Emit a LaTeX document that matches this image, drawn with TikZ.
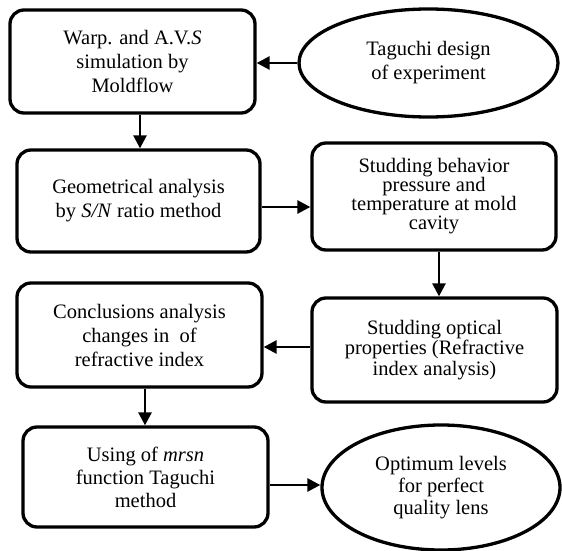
\documentclass[tikz,border=0pt]{standalone}
\usepackage{fontspec}
\setmainfont{Liberation Serif}
\usetikzlibrary{shapes.geometric,arrows.meta}
\newcommand\mytightlines{\lineskiplimit=-30pt\relax}
\begin{document}
\begin{tikzpicture}[x=1pt,y=-1pt,
  box/.style={draw,line width=3.3pt,rounded corners=14pt,align=center,inner sep=0pt,
    font=\fontsize{20.5}{24}\selectfont},
  oval/.style={draw,ellipse,line width=3.3pt,align=center,inner sep=0pt,
    font=\fontsize{20.5}{24}\selectfont},
  conn/.style={line width=2.6pt,-{Triangle[length=13pt,width=13pt]}}]
\useasboundingbox (0,0) rectangle (562,551);
\node[box,minimum width=245pt,minimum height=103pt] (b1) at (132.5,61.5)
  {Warp. and A.V.\textit{S}\\simulation by\\Moldflow};
\node[oval,minimum width=259pt,minimum height=108pt] (e1) at (428.5,63)
  {Taguchi design\\of experiment};
\node[box,minimum width=243pt,minimum height=102pt] (b2) at (138.5,201)
  {Geometrical analysis\\by \textit{S/N} ratio method};
\node[box,minimum width=244pt,minimum height=107pt,font={\fontsize{20.5}{19}\selectfont\mytightlines}] (b4) at (434,196.5)
  {Studding behavior\\pressure and\\temperature at mold\\cavity};
\node[box,minimum width=245pt,minimum height=104pt,font={\fontsize{20.5}{20.5}\selectfont\mytightlines}] (b6) at (434.5,350)
  {Studding optical\\properties (Refractive\\index analysis)};
\node[box,minimum width=245pt,minimum height=104pt] (b5) at (139.5,335)
  {Conclusions analysis\\changes in\ \ of\\refractive index};
\node[box,minimum width=245pt,minimum height=100pt,font=\fontsize{20.5}{23}\selectfont] (b7) at (145.5,477)
  {Using of \textit{mrsn}\\function Taguchi\\method};
\node[oval,minimum width=238pt,minimum height=125pt,font=\fontsize{20.5}{22}\selectfont] (e2) at (441,487.5)
  {Optimum levels\\for perfect\\quality lens};
\draw[conn] (e1.west) -- (e1.west -| b1.east);
\draw[conn] ([xshift=7.5pt]b1.south) -- ([xshift=7.5pt]b1.south |- b2.north);
\draw[conn] ([yshift=-6pt]b2.east) -- ([yshift=-6pt]b2.east -| b4.west);
\draw[conn] ([xshift=5pt]b4.south) -- ([xshift=5pt]b4.south |- b6.north);
\draw[conn] ([yshift=3pt]b6.west) -- ([yshift=3pt]b6.west -| b5.east);
\draw[conn] ([xshift=5.5pt]b5.south) -- ([xshift=5.5pt]b5.south |- b7.north);
\draw[conn] ([yshift=-8pt]b7.east) -- ([yshift=-8pt]b7.east -| e2.west);
\end{tikzpicture}
\end{document}
